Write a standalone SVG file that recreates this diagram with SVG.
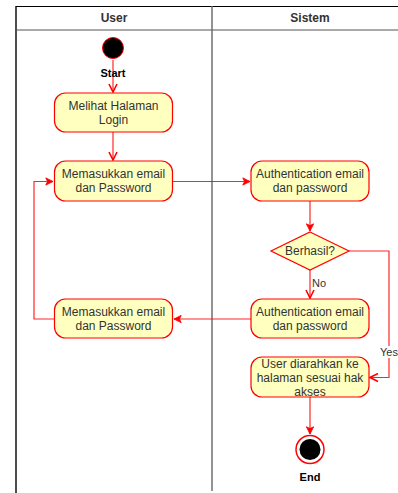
<svg xmlns="http://www.w3.org/2000/svg" width="398" height="493" viewBox="0 0 398 493">
  <style>
    .act { fill: #ffffc0; stroke: #ff0000; stroke-width: 1.2; }
    .txt { font-family: "Liberation Sans", Arial, sans-serif; font-size: 12px; fill: #333333; text-anchor: middle; }
    .hdr { font-family: "Liberation Sans", Arial, sans-serif; font-size: 12px; font-weight: bold; fill: #333333; text-anchor: middle; }
    .term { font-family: "Liberation Sans", Arial, sans-serif; font-size: 11px; font-weight: bold; fill: #000000; text-anchor: middle; }
    .lbl { font-family: "Liberation Sans", Arial, sans-serif; font-size: 11px; fill: #333333; text-anchor: middle; }
    .flow { fill: none; stroke: #ff0000; stroke-width: 1.2; stroke-opacity: 0.85; }
    .open { marker-end: url(#openArrow); }
    .filled { marker-end: url(#filledArrow); }
  </style>
  <defs>
    <marker id="openArrow" viewBox="0 0 10 10" refX="9" refY="5" markerWidth="10" markerHeight="10" markerUnits="userSpaceOnUse" orient="auto">
      <path d="M1,1 L9,5 L1,9" fill="none" stroke="#ff0000" stroke-width="1.6"/>
    </marker>
    <marker id="filledArrow" viewBox="0 0 10 10" refX="9" refY="5" markerWidth="9" markerHeight="9" markerUnits="userSpaceOnUse" orient="auto">
      <path d="M1,1 L9,5 L1,9 L3,5 Z" fill="#ff0000" stroke="#ff0000" stroke-width="1"/>
    </marker>
  </defs>

  <rect width="398" height="493" fill="#ffffff"/>

  <!-- swimlane frame -->
  <g id="lanes">
    <line x1="16" y1="6.5" x2="398" y2="6.5" stroke="#000000" stroke-width="1.2"/>
    <line x1="16" y1="6" x2="16" y2="493" stroke="#000000" stroke-width="1.4"/>
    <line x1="16" y1="30" x2="398" y2="30" stroke="#555555" stroke-width="1"/>
    <line x1="212" y1="6" x2="212" y2="491" stroke="#666666" stroke-width="1.4"/>
    <text class="hdr" x="114" y="22">User</text>
    <text class="hdr" x="310" y="22">Sistem</text>
  </g>

  <!-- connectors -->
  <g id="connectors">
    <line class="flow open" x1="113" y1="60" x2="113" y2="92"/>
    <line class="flow open" x1="113" y1="132" x2="113" y2="160"/>
    <line class="flow filled" x1="173" y1="181.5" x2="250" y2="181.5"/>
    <line class="flow filled" x1="310" y1="201" x2="310" y2="231"/>
    <line class="flow open" x1="310" y1="270" x2="310" y2="298"/>
    <polyline class="flow open" points="349,251 389,251 389,377.5 370,377.5"/>
    <line class="flow filled" x1="251" y1="319" x2="174" y2="319"/>
    <polyline class="flow filled" points="54,319 34,319 34,181.5 53,181.5"/>
    <line class="flow filled" x1="310" y1="397" x2="310" y2="434"/>
    <rect x="378" y="346" width="20" height="12" fill="#ffffff"/>
    <text class="lbl" x="389" y="356">Yes</text>
    <text class="lbl" x="319" y="287">No</text>
  </g>

  <!-- nodes -->
  <g id="start">
    <circle cx="113" cy="48" r="10.5" fill="#000000" stroke="#ff0000" stroke-width="1"/>
    <text class="term" x="113" y="77">Start</text>
  </g>

  <g id="lihat-login">
    <rect class="act" x="54.5" y="93" width="118" height="39" rx="11"/>
    <text class="txt" x="113.5" y="110">Melihat Halaman</text>
    <text class="txt" x="113.5" y="124">Login</text>
  </g>

  <g id="input-1">
    <rect class="act" x="54.5" y="161" width="118" height="40" rx="11"/>
    <text class="txt" x="113.5" y="178">Memasukkan email</text>
    <text class="txt" x="113.5" y="192">dan Password</text>
  </g>

  <g id="auth-1">
    <rect class="act" x="251" y="161" width="118" height="40" rx="11"/>
    <text class="txt" x="310" y="178">Authentication email</text>
    <text class="txt" x="310" y="192">dan password</text>
  </g>

  <g id="decision">
    <polygon points="310,232 349,251 310,270 271,251" fill="#ffffc0" stroke="#ff0000" stroke-width="1.2"/>
    <text class="txt" x="310" y="255">Berhasil?</text>
  </g>

  <g id="auth-2">
    <rect class="act" x="251" y="299" width="118" height="39" rx="11"/>
    <text class="txt" x="310" y="316">Authentication email</text>
    <text class="txt" x="310" y="330">dan password</text>
  </g>

  <g id="input-2">
    <rect class="act" x="54.5" y="299" width="118" height="39" rx="11"/>
    <text class="txt" x="113.5" y="316">Memasukkan email</text>
    <text class="txt" x="113.5" y="330">dan Password</text>
  </g>

  <g id="redirect">
    <rect class="act" x="251" y="357" width="118" height="40" rx="11"/>
    <text class="txt" x="310" y="368">User diarahkan ke</text>
    <text class="txt" x="310" y="382">halaman sesuai hak</text>
    <text class="txt" x="310" y="396">akses</text>
  </g>

  <g id="end">
    <circle cx="310" cy="449.5" r="14" fill="#ffffff" stroke="#ff0000" stroke-width="1.5"/>
    <circle cx="310" cy="449.5" r="10.5" fill="#000000"/>
    <text class="term" x="310" y="481">End</text>
  </g>
</svg>
